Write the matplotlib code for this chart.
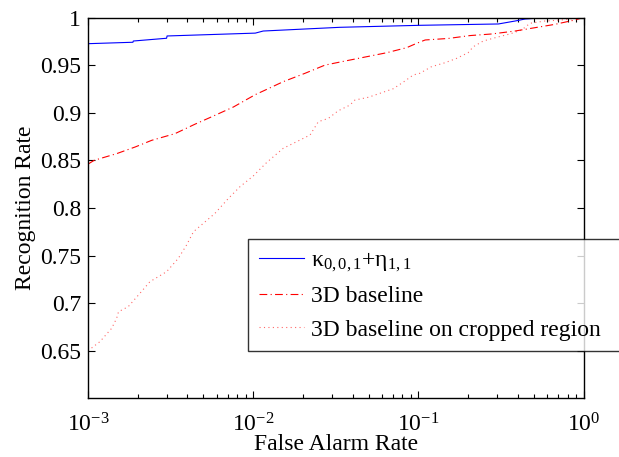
import numpy as np
import matplotlib
matplotlib.use('Agg')
import matplotlib.pyplot as plt

plt.rcParams['font.family'] = ['Liberation Serif', 'DejaVu Serif']
plt.rcParams['mathtext.fontset'] = 'custom'
plt.rcParams['mathtext.rm'] = 'Liberation Serif'
plt.rcParams['mathtext.it'] = 'Liberation Serif:italic'
plt.rcParams['mathtext.bf'] = 'Liberation Serif:bold'

# ROC curves
far_kappa = [0.001, 0.00187, 0.00188, 0.00299, 0.00301, 0.0103, 0.0115, 0.0335,
             0.102, 0.305, 0.385, 0.442, 0.599, 1.0]
rr_kappa = [0.9725, 0.974, 0.9753, 0.9782, 0.9806, 0.9836, 0.9858, 0.9897,
            0.9918, 0.9932, 0.9963, 0.9984, 1.0, 1.0]

far_base = [0.001, 0.00109, 0.00149, 0.00193, 0.00243, 0.00336, 0.00445, 0.00574,
            0.00759, 0.0103, 0.0115, 0.0152, 0.0206, 0.0272, 0.0360, 0.0486,
            0.0643, 0.0849, 0.0977, 0.110, 0.152, 0.205, 0.278, 0.385, 0.508,
            0.671, 0.887, 1.0]
rr_base = [0.846, 0.850, 0.857, 0.864, 0.871, 0.878, 0.888, 0.8965,
           0.906, 0.919, 0.9228, 0.9326, 0.9414, 0.950, 0.9543, 0.9588,
           0.963, 0.9683, 0.9729, 0.9764, 0.978, 0.981, 0.9827, 0.9858, 0.9893,
           0.9928, 0.9974, 1.0]

far_crop = [0.001, 0.00118, 0.00139, 0.00149, 0.00153, 0.00175, 0.00202, 0.00237,
            0.00299, 0.00352, 0.00395, 0.00435, 0.00499, 0.00587, 0.00708, 0.00832,
            0.0100, 0.0121, 0.0129, 0.0152, 0.0192, 0.0221, 0.0248, 0.0285,
            0.0327, 0.0385, 0.0413, 0.0498, 0.0586, 0.0705, 0.0818, 0.0931,
            0.102, 0.120, 0.145, 0.170, 0.200, 0.215, 0.247, 0.298, 0.358,
            0.422, 0.474, 0.583, 0.736, 0.887, 1.0]
rr_crop = [0.650, 0.6595, 0.6735, 0.684, 0.691, 0.6962, 0.7085, 0.7225,
           0.733, 0.747, 0.761, 0.775, 0.7838, 0.7943, 0.810, 0.8223,
           0.8335, 0.8479, 0.852, 0.8626, 0.8713, 0.8766, 0.8906, 0.894,
           0.902, 0.908, 0.9133, 0.9162, 0.9204, 0.9252, 0.9326, 0.9396,
           0.9414, 0.9483, 0.9525, 0.957, 0.963, 0.9693, 0.9753, 0.9792, 0.9827,
           0.9869, 0.9939, 0.9963, 0.9974, 0.9992, 1.0]

yticks = [0.65, 0.7, 0.75, 0.8, 0.85, 0.9, 0.95, 1]
ytick_labels = ['0.65', '0.7', '0.75', '0.8', '0.85', '0.9', '0.95', '1']

labels = [r'$\mathrm{κ}_{0,0,1}\mathrm{+η}_{1,1}$', '3D baseline',
          '3D baseline on cropped region']

fig = plt.figure(figsize=(6.19, 4.57), dpi=100)
ax = fig.add_axes([0.1422, 0.1284, 0.8005, 0.8333])

ax.plot(far_kappa, rr_kappa, color='blue', lw=0.8, label=labels[0])
ax.plot(far_base, rr_base, color='red', lw=0.8, linestyle=(0, (7, 3, 1, 3)),
        label=labels[1])
ax.plot(far_crop, rr_crop, color='red', lw=0.8, alpha=0.6, linestyle=(0, (1, 3)),
        label=labels[2])

ax.set_xscale('log')
ax.set_xlim(1e-3, 1)
ax.set_ylim(0.6, 1)
ax.set_yticks(yticks)
ax.set_yticklabels(ytick_labels)

ax.tick_params(which='both', direction='in', top=True, right=True,
               labelsize=17, width=0.8)
ax.tick_params(axis='y', pad=5)
ax.tick_params(axis='x', pad=11)
ax.tick_params(which='major', length=5)
ax.tick_params(which='minor', length=3)
for s in ax.spines.values():
    s.set_linewidth(1.0)

ax.set_xlabel('False Alarm Rate', fontsize=17, labelpad=-2)
ax.set_ylabel('Recognition Rate', fontsize=17, labelpad=3)

leg = ax.legend(loc='upper left', bbox_to_anchor=(0.323, 0.1216, 0.75, 0.2964),
                mode='expand', fontsize=17, frameon=True, fancybox=False,
                handlelength=1.9, handletextpad=0.3, borderpad=0.45,
                labelspacing=0.5, borderaxespad=0)
leg.get_frame().set_edgecolor('black')
leg.get_frame().set_linewidth(1.0)
leg.set_clip_on(False)

fig.savefig('out.png', dpi=100)
